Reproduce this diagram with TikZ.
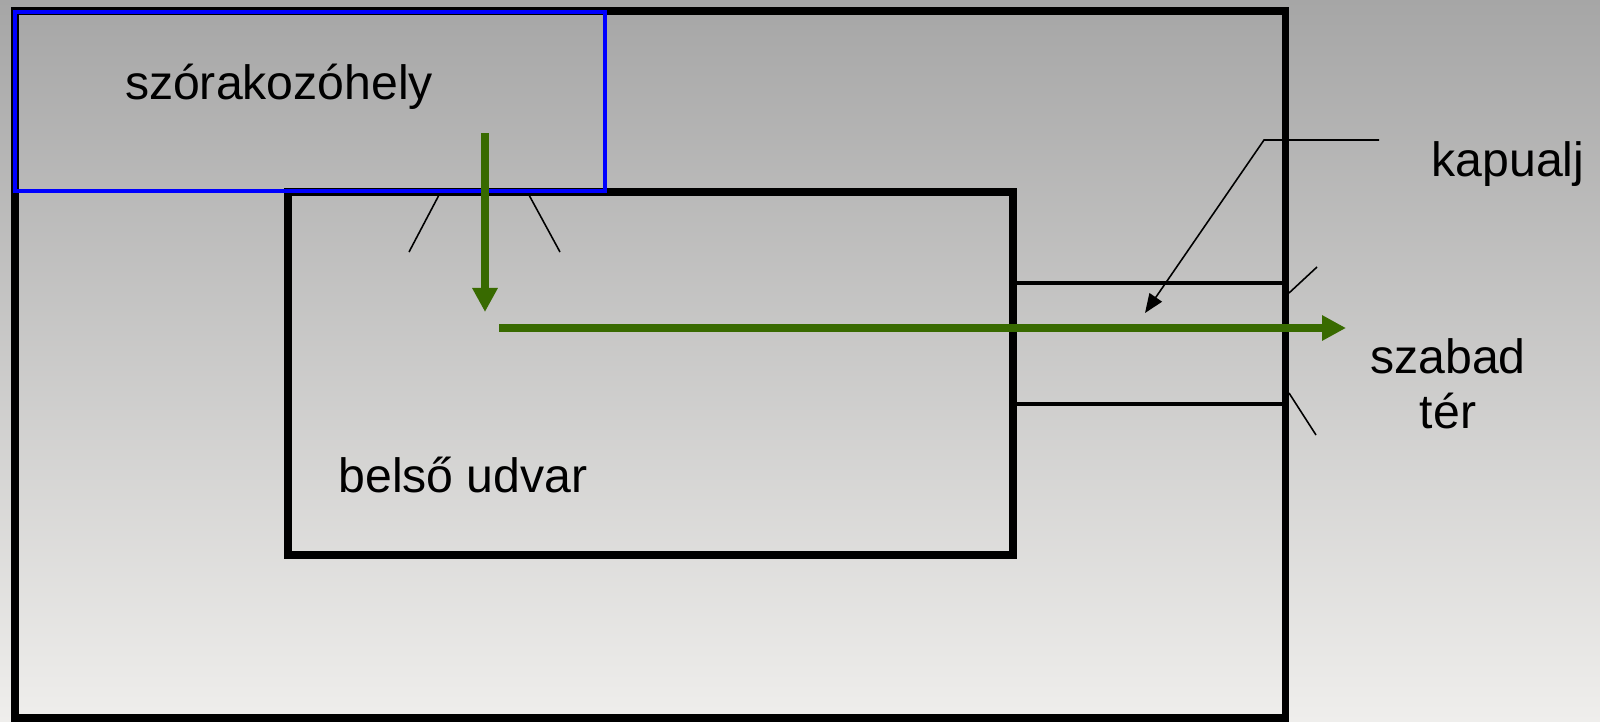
\documentclass[tikz,border=0pt]{standalone}
\usepackage{fontspec}
\setmainfont{Liberation Sans}
\usetikzlibrary{arrows.meta}
\definecolor{pathgreen}{RGB}{56,106,0}
\definecolor{bgtop}{RGB}{166,166,166}
\definecolor{bgbottom}{RGB}{239,238,236}
\tikzset{
	wall/.style={draw=black, line width=2pt},
	hall/.style={draw=blue, line width=1.3pt},
	passage/.style={draw=black, line width=1.1pt},
	doorleaf/.style={draw=black, line width=0.45pt},
	route/.style={draw=pathgreen, line width=2.1pt, -{Triangle[length=0.24cm, width=0.24cm]}},
	pointer/.style={draw=black, line width=0.45pt, -{Triangle[length=0.19cm, width=0.15cm]}},
	roomname/.style={font=\fontsize{13.7}{15.6}\selectfont, text=black, inner sep=0pt, anchor=base}
}

\begin{document}
\begin{tikzpicture}[x=0.01cm, y=-0.01cm]
	\shade[top color=bgtop, bottom color=bgbottom] (0,0) rectangle (1600,721);
	\useasboundingbox (0,0) rectangle (1600,721);

	% walls
	\draw[wall] (15,11) rectangle (1285,718);
	\draw[wall] (288,192) rectangle (1013,555);
	\draw[passage] (1013,283) -- (1285,283);
	\draw[passage] (1013,404) -- (1285,404);
	\draw[hall] (15,12) rectangle (605,191);

	% doors
	\draw[doorleaf] (439,195) -- (409,252);
	\draw[doorleaf] (529,195) -- (560,252);
	\draw[doorleaf] (1289,293) -- (1317,267);
	\draw[doorleaf] (1289,393) -- (1316,435);

	\node[roomname] (fun)    at (279,99)   {szórakozóhely};
	\node[roomname] (yard)   at (463,492)  {belső udvar};
	\node[roomname] (gate)   at (1508,176) {kapualj};
	\node[roomname, align=center] (street) at (1448,428) {szabad\\tér};

	\coordinate (fall start) at (485,133);
	\coordinate (fall end)   at (485,312);
	\coordinate (exit start) at (499,328);
	\coordinate (exit end)   at (1346,328);
	\coordinate (tag)  at (1379,140);
	\coordinate (bend) at (1264,140);
	\coordinate (spot) at (1145,313);

	\draw[route] (fall start) -- (fall end);
	\draw[route] (exit start) -- (exit end);
	\draw[pointer] (tag) -- (bend) -- (spot);
\end{tikzpicture}
\end{document}
